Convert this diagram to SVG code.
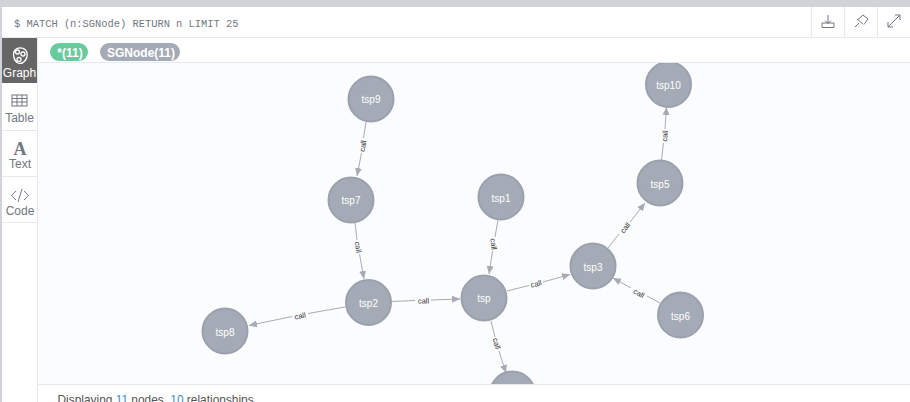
<svg xmlns="http://www.w3.org/2000/svg" width="910" height="402" viewBox="0 0 910 402">
<style>
text{font-family:"Liberation Sans",Arial,sans-serif}
.n{fill:#a5abb6;stroke:#9aa1ac;stroke-width:2}
.nt{fill:#fff;font-size:10px;text-anchor:middle}
.e{stroke:#a5abb6;stroke-width:1;fill:none}
.h{fill:#a5abb6}
.el{fill:#333;font-size:7.500px;text-anchor:middle}
.div{stroke:#e6e9ef;stroke-width:1;fill:none}
.side{fill:#717784;font-size:12px;text-anchor:middle}
.ic{fill:none;stroke:#717784;stroke-width:1}
</style>
<defs>
<clipPath id="g"><rect x="38" y="63" width="872" height="321"/></clipPath>
<marker id="a" markerUnits="userSpaceOnUse" markerWidth="9" markerHeight="8" refX="8" refY="4" orient="auto"><path d="M0 0.500L8 4L0 7.500Z" class="h"/></marker>
</defs>
<rect width="910" height="402" fill="#fff"/>
<rect x="38" y="63" width="872" height="321" fill="#fbfcfe"/>
<rect width="910" height="7" fill="#d0d3d8"/>
<rect y="7" width="2" height="395" fill="#d0d3d8"/>
<path class="div" d="M2 37.500H910M37.500 38V402M38 62.500H910M38 384.500H910M811.500 7V37M844.500 7V37M877.500 7V37M2 130.500H37M2 176.500H37M2 222.500H37"/>
<text x="14" y="27" font-size="10.400" style="font-family:'Liberation Mono','DejaVu Sans Mono',monospace" fill="#717784">$ MATCH (n:SGNode) RETURN n LIMIT 25</text>

<g id="toolbar" class="ic">
<path d="M828 15V23M825 20.500L828 23.500L831 20.500M822 23H834V27.500H822Z"/>
<path d="M855 27L859 23M857 19L863 24M858 19.500L863 15L868 19L864 24.500"/>
<path d="M888 27L900 15M895 15H900V20M888 22V27H893"/>
</g>

<g id="sidebar">
<rect x="2" y="38" width="35" height="45" fill="#666"/>
<g fill="none" stroke="#fff" stroke-width="1.300"><path d="M15 50C19 46 26 48 27 53C28 59 23 65 18 63C14 61 12 54 15 50Z"/><circle cx="17.500" cy="52" r="2"/><circle cx="23" cy="54" r="2"/><circle cx="19" cy="59.500" r="2"/></g>
<text x="19.500" y="77" font-size="12" text-anchor="middle" fill="#fff">Graph</text>
<g class="ic"><rect x="12" y="95" width="15" height="11"/><path d="M12 98.500H27M12 102H27M17 95V106M22 95V106"/></g>
<text x="19.500" y="122" class="side">Table</text>
<text x="20" y="154.500" font-size="18" text-anchor="middle" style="font-family:'Liberation Serif',serif;font-weight:bold" fill="#717784">A</text>
<text x="20" y="168" class="side">Text</text>
<path class="ic" d="M16 191L11.500 195.500L16 200M24 191L28.500 195.500L24 200M22 189L18 202"/>
<text x="20" y="215" class="side">Code</text>
</g>

<g id="legend">
<rect x="50" y="43" width="38" height="18" rx="9" fill="#68cb9d"/>
<text x="70" y="56.500" font-size="12" font-weight="bold" text-anchor="middle" fill="#fff">*(11)</text>
<rect x="100" y="43" width="80" height="18" rx="9" fill="#a5abb6"/>
<text x="141" y="56.500" font-size="12" font-weight="bold" text-anchor="middle" fill="#fff">SGNode(11)</text>
</g>

<g clip-path="url(#g)">
<g id="connectors">
<path class="e" d="M366 122L363.500 138M361.500 153L357 176" marker-end="url(#a)"/>
<text class="el" transform="translate(362.500 146) rotate(-81)" y="3">call</text>
<path class="e" d="M355 223L357 240M359.500 254L364 279" marker-end="url(#a)"/>
<text class="el" transform="translate(358.500 247) rotate(81)" y="3">call</text>
<path class="e" d="M345 307L308 313.500M292 316.500L249 325.500" marker-end="url(#a)"/>
<text class="el" transform="translate(300 315.500) rotate(-11)" y="3">call</text>
<path class="e" d="M392 301.500L415 300.500M431 300L460 299" marker-end="url(#a)"/>
<text class="el" transform="translate(423.500 300.500) rotate(-1)" y="3">call</text>
<path class="e" d="M498 220L495 237M492.500 251L489 274" marker-end="url(#a)"/>
<text class="el" transform="translate(494 244) rotate(82)" y="3">call</text>
<path class="e" d="M507 291L529 285.500M543 282L570 274.500" marker-end="url(#a)"/>
<text class="el" transform="translate(536 283.500) rotate(-15)" y="3">call</text>
<path class="e" d="M491 321L495 337M499 351L506 373" marker-end="url(#a)"/>
<text class="el" transform="translate(497 343.500) rotate(75)" y="3">call</text>
<path class="e" d="M608 248L619 234M630 222L645 203" marker-end="url(#a)"/>
<text class="el" transform="translate(625 227.500) rotate(-50)" y="3">call</text>
<path class="e" d="M660 303L647 296M631 288L613 278" marker-end="url(#a)"/>
<text class="el" transform="translate(639 293) rotate(30)" y="3">call</text>
<path class="e" d="M661.500 160L663.500 143M665 129L666.500 107" marker-end="url(#a)"/>
<text class="el" transform="translate(664.500 136) rotate(-86)" y="3">call</text>
</g>
<g id="tsp9"><circle class="n" cx="371" cy="99" r="22.500"/><text class="nt" x="371" y="103">tsp9</text></g>
<g id="tsp7"><circle class="n" cx="351" cy="200" r="22.500"/><text class="nt" x="351" y="204">tsp7</text></g>
<g id="tsp2"><circle class="n" cx="368.500" cy="302.500" r="22.500"/><text class="nt" x="368.500" y="307">tsp2</text></g>
<g id="tsp8"><circle class="n" cx="225" cy="331" r="22.500"/><text class="nt" x="225" y="336">tsp8</text></g>
<g id="tsp"><circle class="n" cx="484" cy="298" r="22.500"/><text class="nt" x="484" y="302">tsp</text></g>
<g id="tsp1"><circle class="n" cx="501" cy="197" r="22.500"/><text class="nt" x="501" y="202">tsp1</text></g>
<g id="tsp3"><circle class="n" cx="593" cy="266" r="22.500"/><text class="nt" x="593" y="271">tsp3</text></g>
<g id="tsp5"><circle class="n" cx="660" cy="183" r="22.500"/><text class="nt" x="660" y="188">tsp5</text></g>
<g id="tsp6"><circle class="n" cx="680.500" cy="315" r="22.500"/><text class="nt" x="680.500" y="320">tsp6</text></g>
<g id="tsp10"><circle class="n" cx="668.500" cy="84.500" r="22.500"/><text class="nt" x="668.500" y="89">tsp10</text></g>
<g id="tsp4"><circle class="n" cx="512.500" cy="394" r="22.500"/></g>
</g>
<text x="57.500" y="404" font-size="11.900" fill="#555">Displaying <tspan fill="#428bca">11</tspan> nodes, <tspan fill="#428bca">10</tspan> relationships</text>
</svg>
